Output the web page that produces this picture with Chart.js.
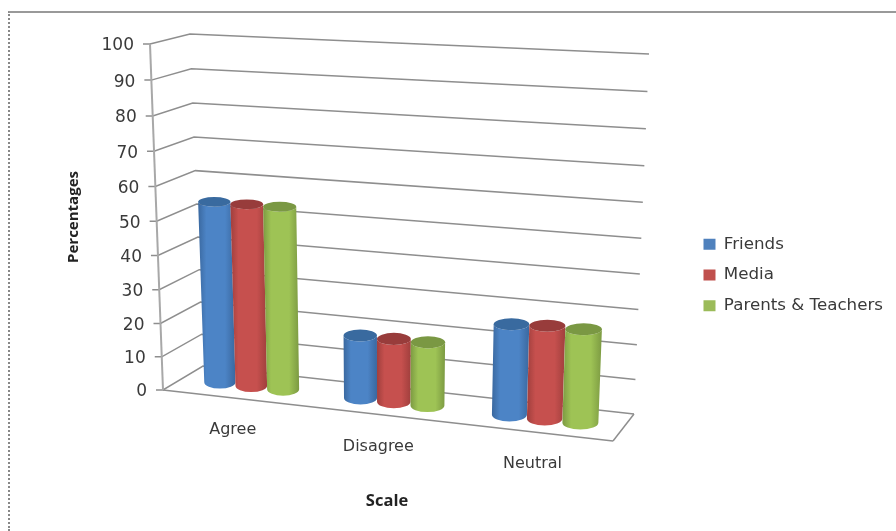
<!DOCTYPE html>
<html>
<head>
<meta charset="utf-8">
<style>
  html, body { margin: 0; background: #fff; }
  #frame { position: absolute; left: 8px; top: 11px; right: 0; bottom: 0;
           border-left: 2px dotted #888; border-top: 2px solid #999; }
  canvas { position: absolute; left: 0; top: 0; }
</style>
<script src="https://cdn.jsdelivr.net/npm/chart.js@4"></script>
</head>
<body>
<div id="frame"></div>
<canvas id="scaleChart" width="896" height="531"></canvas>
<script>
const categories = ['Agree', 'Disagree', 'Neutral'];
const friends = [54, 18.5, 26];
const media = [54, 18.5, 26.5];
const parentsTeachers = [54, 18.5, 26.5];
const yTicks = [0, 10, 20, 30, 40, 50, 60, 70, 80, 90, 100];

const FONT = '"DejaVu Sans", sans-serif';
const TITLE_FONT = '"Open Sans", sans-serif';
const TEXT = '#3a3a3a';
const LINE = '#8e8e8e';

// body gradient stops and top cap colour for each series
const shades = [
  { edge: '#3a689f', mid: '#4c84c6', cap: '#396a9f' },
  { edge: '#a03f3d', mid: '#c6504e', cap: '#983c3b' },
  { edge: '#7c9a42', mid: '#9ec355', cap: '#7a9843' },
];

// corners of the plot box: floor and roof, front and back
const box = {
  floor: { fl: [163, 390], fr: [613, 441], bl: [203, 366], br: [634, 414] },
  roof: { fl: [150, 44], fr: [629, 65], bl: [190, 34], br: [649, 54] },
};
const FORESHORTEN_X = 1.09;
const FORESHORTEN_Y = 1.049;
const CYLINDER_DEPTH = 0.2;

const mix = (a, b, t) => [a[0] + (b[0] - a[0]) * t, a[1] + (b[1] - a[1]) * t];

function project(chart, px, py, depth) {
  const area = chart.chartArea;
  const s = (px - area.left) / area.width;
  const f = s / (s + FORESHORTEN_X * (1 - s));
  const t = (area.bottom - py) / area.height;
  const corner = (name) => mix(box.floor[name], box.roof[name], t);
  return mix(mix(corner('fl'), corner('fr'), f), mix(corner('bl'), corner('br'), f), depth);
}

// value axis whose ticks bunch up towards the floor
class PerspectiveScale extends Chart.LinearScale {
  static id = 'perspective';
  static defaults = Chart.LinearScale.defaults;

  getPixelForValue(value) {
    const t = (value - this.min) / (this.max - this.min);
    return this.getPixelForDecimal(t / (t + FORESHORTEN_Y * (1 - t)));
  }

  _computeLabelItems(area) {
    return super._computeLabelItems(area).map((item) => {
      const y = item.options.translation[1];
      const edge = project(this.chart, this.chart.chartArea.left, y, 0);
      item.options.translation = [edge[0] - 16, y + 2];
      return item;
    });
  }
}

// category labels follow the slanted front edge of the floor
class FloorScale extends Chart.CategoryScale {
  static id = 'floor';
  static defaults = Chart.CategoryScale.defaults;

  _computeLabelItems(area) {
    return super._computeLabelItems(area).map((item) => {
      const p = project(this.chart, item.options.translation[0], this.chart.chartArea.bottom, 0);
      item.options.translation = [p[0], p[1] + 32];
      item.options.textBaseline = 'middle';
      item.textOffset = 0;
      return item;
    });
  }
}

Chart.register(PerspectiveScale, FloorScale);

function segment(ctx, a, b) {
  ctx.beginPath();
  ctx.moveTo(a[0], a[1]);
  ctx.lineTo(b[0], b[1]);
  ctx.stroke();
}

function drawWalls(chart) {
  const { ctx, chartArea: area, scales: { y } } = chart;
  ctx.save();
  ctx.strokeStyle = LINE;
  ctx.lineWidth = 1.5;
  y.ticks.forEach((tick) => {
    const py = y.getPixelForValue(tick.value);
    const front = project(chart, area.left, py, 0);
    const corner = project(chart, area.left, py, 1);
    const end = project(chart, area.right, py, 1);
    ctx.beginPath();
    ctx.moveTo(front[0] - 7, front[1]);
    ctx.lineTo(front[0], front[1]);
    ctx.lineTo(corner[0], corner[1]);
    ctx.lineTo(end[0], end[1]);
    ctx.stroke();
  });
  // front edge of the floor and its right side
  const frontRight = project(chart, area.right, area.bottom, 0);
  segment(ctx, project(chart, area.left, area.bottom, 0), frontRight);
  segment(ctx, frontRight, project(chart, area.right, area.bottom, 1));
  ctx.strokeStyle = '#a8a8a8';
  ctx.lineWidth = 2;
  segment(ctx, project(chart, area.left, area.top, 0), project(chart, area.left, area.bottom, 0));
  ctx.restore();
}

function drawCylinder(chart, bar, shade) {
  const ctx = chart.ctx;
  const half = bar.width / 2;
  const ring = (py) => {
    const c = project(chart, bar.x, py, 0.5);
    const l = project(chart, bar.x - half, py, 0.5);
    const r = project(chart, bar.x + half, py, 0.5);
    const near = project(chart, bar.x, py, 0.5 - CYLINDER_DEPTH);
    const far = project(chart, bar.x, py, 0.5 + CYLINDER_DEPTH);
    return { x: c[0], y: c[1], rx: (r[0] - l[0]) / 2, ry: 1.5 + (near[1] - far[1]) / 2 };
  };
  const top = ring(bar.y);
  const bottom = ring(bar.base);

  const left = Math.min(top.x - top.rx, bottom.x - bottom.rx);
  const right = Math.max(top.x + top.rx, bottom.x + bottom.rx);
  const body = ctx.createLinearGradient(left, 0, right, 0);
  body.addColorStop(0, shade.edge);
  body.addColorStop(0.22, shade.mid);
  body.addColorStop(0.72, shade.mid);
  body.addColorStop(1, shade.edge);

  ctx.beginPath();
  ctx.moveTo(top.x - top.rx, top.y);
  ctx.lineTo(bottom.x - bottom.rx, bottom.y);
  ctx.ellipse(bottom.x, bottom.y, bottom.rx, bottom.ry, 0, Math.PI, 0, true);
  ctx.lineTo(top.x + top.rx, top.y);
  ctx.ellipse(top.x, top.y, top.rx, top.ry, 0, 0, Math.PI, false);
  ctx.closePath();
  ctx.fillStyle = body;
  ctx.fill();

  ctx.beginPath();
  ctx.ellipse(top.x, top.y, top.rx, top.ry, 0, 0, Math.PI * 2);
  ctx.fillStyle = shade.cap;
  ctx.fill();
}

const cylinders = {
  id: 'cylinders',
  afterLayout(chart) {
    // keep the axis title centred under the floor, not the whole area
    chart.scales.x.right = 624;
  },
  beforeDatasetsDraw(chart) {
    drawWalls(chart);
  },
  beforeDatasetDraw() {
    return false;
  },
  afterDatasetsDraw(chart) {
    chart.data.datasets.forEach((ds, i) => {
      chart.getDatasetMeta(i).data.forEach((bar) => drawCylinder(chart, bar, shades[i]));
    });
  },
};

new Chart(document.getElementById('scaleChart'), {
  type: 'bar',
  data: {
    labels: categories,
    datasets: [
      { label: 'Friends', data: friends, backgroundColor: '#4F81BD' },
      { label: 'Media', data: media, backgroundColor: '#C0504D' },
      { label: 'Parents & Teachers', data: parentsTeachers, backgroundColor: '#9BBB59' },
    ],
  },
  plugins: [cylinders],
  options: {
    responsive: false,
    animation: false,
    categoryPercentage: 0.685,
    barPercentage: 1,
    layout: { padding: { top: 44, left: 54, right: 3, bottom: 25 } },
    plugins: {
      tooltip: { enabled: false },
      legend: {
        position: 'right',
        labels: {
          boxWidth: 12,
          boxHeight: 11,
          padding: 14,
          color: TEXT,
          font: { family: FONT, size: 16.7 },
        },
      },
    },
    scales: {
      x: {
        type: 'floor',
        grid: { display: false },
        border: { display: false },
        ticks: { color: TEXT, font: { family: FONT, size: 16 }, maxRotation: 0 },
        afterFit: (scale) => { scale.height = 116; },
        title: {
          display: true,
          text: 'Scale',
          color: '#222',
          font: { family: TITLE_FONT, size: 16.5, weight: 'bold' },
          padding: { top: 0, bottom: -5 },
        },
      },
      y: {
        type: 'perspective',
        min: 0,
        max: 100,
        grid: { display: false },
        border: { display: false },
        afterFit: (scale) => { scale.width = 96; },
        afterBuildTicks: (scale) => { scale.ticks = yTicks.map((value) => ({ value })); },
        ticks: { color: TEXT, font: { family: FONT, size: 17 } },
        title: {
          display: true,
          text: 'Percentages',
          color: '#222',
          font: { family: TITLE_FONT, size: 15, weight: 'bold' },
          padding: { top: 11, bottom: 0 },
        },
      },
    },
  },
});
</script>
</body>
</html>
